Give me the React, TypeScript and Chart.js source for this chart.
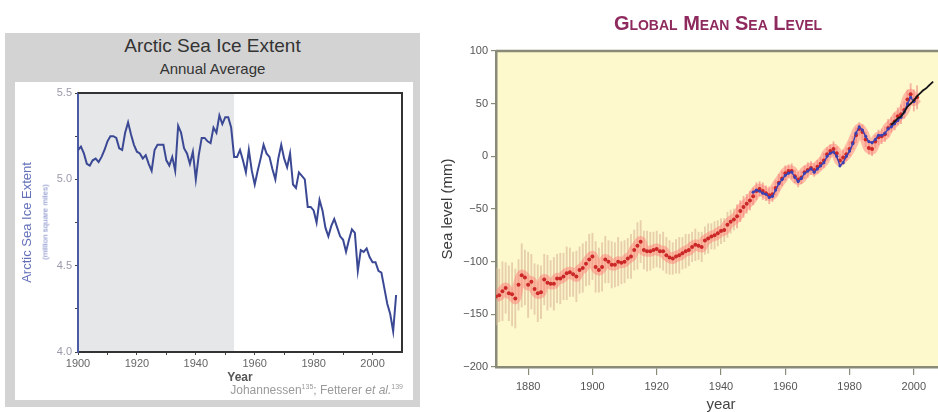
import React, { useEffect, useRef } from 'react';
import { Chart, registerables } from 'chart.js';

Chart.register(...registerables);

const FONT = "'Liberation Sans', Arial, Helvetica, sans-serif";

// ---------- Arctic sea ice extent (million square miles), annual, 1900-2008 ----------
const iceStartYear = 1900;
const iceExtent = [
  5.17, 5.19, 5.15, 5.09, 5.08, 5.11, 5.12, 5.10, 5.13, 5.17,
  5.22, 5.25, 5.25, 5.24, 5.18, 5.17, 5.27, 5.33, 5.26, 5.20,
  5.16, 5.15, 5.12, 5.14, 5.09, 5.05, 5.17, 5.20, 5.20, 5.20,
  5.11, 5.08, 5.13, 5.05, 5.31, 5.27, 5.18, 5.15, 5.09, 5.16,
  5.00, 5.14, 5.24, 5.24, 5.22, 5.21, 5.30, 5.27, 5.37, 5.32,
  5.36, 5.36, 5.30,
  5.13, 5.13, 5.17, 5.11, 5.04, 5.17, 5.05, 4.97, 5.05, 5.12,
  5.20, 5.15, 5.13, 5.06, 5.00, 5.12, 5.20, 5.12, 5.07, 5.15,
  4.97, 4.95, 5.04, 5.02, 5.00, 4.84, 4.84, 4.82, 4.75, 4.88,
  4.82, 4.72, 4.67, 4.73, 4.77, 4.72, 4.67, 4.65, 4.58, 4.65,
  4.71, 4.69, 4.47, 4.59, 4.58, 4.60, 4.55, 4.52, 4.52, 4.47,
  4.46, 4.37, 4.28, 4.22, 4.12, 4.33,
];
const iceXTicks = [1900, 1910, 1920, 1930, 1940, 1950, 1960, 1970, 1980, 1990, 2000];
const iceYTicks = [4.0, 4.25, 4.5, 4.75, 5.0, 5.25, 5.5];
const iceShadeStart = 1900;
const iceShadeEnd = 1953;

// ---------- Global mean sea level (mm) ----------
const reconStartYear = 1870;
const seaReconstructed = [
  -133, -132, -128, -125, -130, -131, -135, -122, -113, -115,
  -122, -119, -126, -130, -129, -117, -120, -121, -121, -116,
  -116, -114, -111, -110, -112, -114, -108, -106, -102, -98,
  -95, -105, -108, -105, -98, -100, -103, -103, -100, -101,
  -100, -97, -95, -89, -85, -81, -89, -90, -90, -89,
  -88, -90, -90, -94, -96, -97, -95, -94, -92, -90,
  -89, -86, -84, -85, -86, -80, -78, -76, -75, -73,
  -71, -70, -65, -62, -60, -57, -52, -48, -45, -42,
  -38, -33, -31, -33, -35, -37, -36, -30, -25, -21,
  -16, -14, -14, -19, -22, -20, -15, -13, -11, -13,
  -10, -7, -4, 2, 5, 7, 3, -4, -1, 2,
  7, 13, 20, 26, 23, 16, 8, 7, 14, 18,
  19, 21, 27, 30, 33, 38, 40, 44, 54, 59,
  53, 56,
];
const seaReconError = [
  27, 25, 28, 24, 26, 30, 28, 24, 30, 26,
  31, 26, 24, 27, 25, 24, 26, 22, 25, 23,
  24, 22, 25, 23, 21, 24, 22, 23, 21, 24,
  22, 24, 21, 23, 22, 20, 22, 21, 23, 20,
  20, 19, 21, 19, 22, 20, 18, 19, 18, 17,
  17, 16, 18, 17, 16, 15, 16, 17, 15, 16,
  15, 14, 15, 13, 14, 13, 14, 12, 13, 12,
  12, 11, 12, 11, 10, 11, 10, 10, 9, 9,
  8, 8, 7, 8, 7, 8, 7, 7, 8, 7,
  7, 6, 7, 6, 7, 6, 6, 7, 6, 6,
  6, 6, 7, 6, 6, 7, 6, 6, 7, 6,
  7, 6, 7, 6, 7, 7, 6, 7, 6, 7,
  7, 7, 8, 7, 8, 8, 9, 8, 9, 10,
  10, 11,
];
const tideStartYear = 1950;
const seaTideGauge = [
  -34, -32, -33, -35, -36, -39, -38, -32, -26, -22,
  -18, -16, -15, -20, -24, -21, -16, -14, -12, -15,
  -12, -9, -6, 0, 3, 4, 0, -9, -6, 0,
  5, 12, 22, 28, 25, 19, 14, 13, 16, 20,
  20, 22, 26, 28, 31, 34, 37, 42, 50, 56,
  52,
];
const altStartYear = 1993;
const seaAltimetry = [30, 33, 36, 38, 42, 47, 50, 53, 57, 60, 63, 65, 68, 71];
const seaXTicks = [1880, 1900, 1920, 1940, 1960, 1980, 2000];
const seaYTicks = [-200, -150, -100, -50, 0, 50, 100];

function IceChart() {
  const ref = useRef<HTMLCanvasElement>(null);
  useEffect(() => {
    if (!ref.current) return;
    Chart.defaults.font.family = FONT;
    const points = iceExtent.map((v, i) => ({ x: iceStartYear + i, y: v }));
    const shade = {
      id: 'iceShade',
      beforeDraw(chart: any) {
        const { ctx, chartArea, scales } = chart;
        const x0 = scales.x.getPixelForValue(iceShadeStart);
        const x1 = scales.x.getPixelForValue(iceShadeEnd);
        ctx.save();
        ctx.fillStyle = '#e6e7e8';
        ctx.fillRect(x0, chartArea.top, x1 - x0, chartArea.bottom - chartArea.top);
        ctx.restore();
      },
      afterDraw(chart: any) {
        const { ctx, chartArea } = chart;
        ctx.save();
        ctx.strokeStyle = '#333';
        ctx.lineWidth = 2;
        ctx.beginPath();
        ctx.moveTo(chartArea.left, chartArea.top);
        ctx.lineTo(chartArea.right, chartArea.top);
        ctx.lineTo(chartArea.right, chartArea.bottom);
        ctx.stroke();
        ctx.restore();
      },
    };
    const chart = new Chart(ref.current, {
      type: 'line',
      data: {
        datasets: [
          {
            data: points,
            borderColor: '#3b4995',
            borderWidth: 2,
            pointRadius: 0,
            tension: 0,
          },
        ],
      },
      options: {
        animation: false,
        responsive: false,
        layout: { padding: { top: 11, right: 11, left: 0, bottom: 0 } },
        plugins: { legend: { display: false }, tooltip: { enabled: false } },
        scales: {
          x: {
            type: 'linear',
            min: 1900,
            max: 2010,
            afterBuildTicks: (s: any) => { s.ticks = iceXTicks.map((v) => ({ value: v })); },
            afterFit: (s: any) => { s.height = 48; },
            ticks: {
              autoSkip: false,
              maxRotation: 0,
              color: '#666',
              font: { size: 11 },
              padding: 2,
              callback: (v: any) => (Number(v) % 20 === 0 ? String(v) : ''),
            },
            grid: { drawOnChartArea: false, tickLength: 3, color: '#444' },
            border: { color: '#333', width: 2 },
            title: {
              display: true,
              text: 'Year',
              color: '#555',
              font: { size: 12, weight: 'bold' },
              padding: { top: 0, bottom: 15 },
            },
          },
          y: {
            min: 4.0,
            max: 5.5,
            afterBuildTicks: (s: any) => { s.ticks = iceYTicks.map((v) => ({ value: v })); },
            afterFit: (s: any) => { s.width = 63; },
            ticks: {
              autoSkip: false,
              color: '#9a9aab',
              font: { size: 11 },
              padding: 3,
              callback: (v: any) => {
                const n = Number(v);
                return Math.abs(n * 2 - Math.round(n * 2)) < 1e-6 ? n.toFixed(1) : '';
              },
            },
            grid: { drawOnChartArea: false, tickLength: 3, color: '#444' },
            border: { color: '#4b5aa5', width: 2 },
            title: {
              display: true,
              text: 'Arctic Sea Ice Extent',
              color: '#6471b9',
              font: { size: 13 },
              padding: { top: 5, bottom: 0 },
            },
          },
        },
      },
      plugins: [shade],
    } as any);
    return () => chart.destroy();
  }, []);
  return <canvas ref={ref} width={398} height={318} style={{ display: 'block' }} />;
}

function SeaChart() {
  const ref = useRef<HTMLCanvasElement>(null);
  useEffect(() => {
    if (!ref.current) return;
    Chart.defaults.font.family = FONT;
    const recon = seaReconstructed.map((v, i) => ({ x: reconStartYear + i, y: v }));
    const errBars = seaReconstructed.map((v, i) => ({
      x: reconStartYear + i,
      y: [v - seaReconError[i], v + seaReconError[i]],
    }));
    const tide = seaTideGauge.map((v, i) => ({ x: tideStartYear + i, y: v }));
    const alt = seaAltimetry.map((v, i) => ({ x: altStartYear + i, y: v }));
    const frameColor = '#8a8a78';
    const bg = {
      id: 'seaBg',
      beforeDraw(chart: any) {
        const { ctx, chartArea } = chart;
        ctx.save();
        ctx.fillStyle = '#fef8cd';
        ctx.fillRect(chartArea.left, chartArea.top, chartArea.right - chartArea.left, chartArea.bottom - chartArea.top);
        ctx.restore();
      },
      afterDraw(chart: any) {
        const { ctx, chartArea } = chart;
        ctx.save();
        ctx.strokeStyle = frameColor;
        ctx.lineWidth = 2.5;
        ctx.beginPath();
        ctx.moveTo(chartArea.left, chartArea.top);
        ctx.lineTo(chartArea.right, chartArea.top);
        ctx.lineTo(chartArea.right, chartArea.bottom);
        ctx.stroke();
        ctx.restore();
      },
    };
    const chart = new Chart(ref.current, {
      type: 'line',
      data: {
        datasets: [
          {
            type: 'line',
            data: alt,
            borderColor: '#151515',
            borderWidth: 1.8,
            pointRadius: 0,
            tension: 0.2,
            order: 0,
          },
          {
            type: 'line',
            data: tide,
            borderColor: '#3b40b2',
            borderWidth: 1.4,
            pointRadius: 1.6,
            pointBackgroundColor: '#3b40b2',
            pointBorderWidth: 0,
            tension: 0,
            order: 1,
          },
          {
            type: 'line',
            data: recon,
            showLine: false,
            pointRadius: 2,
            pointBackgroundColor: '#cc2828',
            pointBorderWidth: 0,
            order: 2,
          },
          {
            type: 'line',
            data: recon,
            borderColor: 'rgba(255,128,120,0.5)',
            borderWidth: 11,
            pointRadius: 0,
            tension: 0.3,
            order: 3,
          },
          {
            type: 'bar',
            data: errBars,
            barThickness: 1.2,
            grouped: false,
            backgroundColor: (c: any) =>
              c.raw && c.raw.x < 1945 ? 'rgba(214,180,146,0.6)' : 'rgba(240,150,140,0.7)',
            order: 4,
          },
        ],
      },
      options: {
        animation: false,
        responsive: false,
        layout: { padding: { top: 51, right: 4, left: 0, bottom: 0 } },
        plugins: { legend: { display: false }, tooltip: { enabled: false } },
        scales: {
          x: {
            type: 'linear',
            min: 1870,
            max: 2010,
            offset: false,
            afterBuildTicks: (s: any) => { s.ticks = seaXTicks.map((v) => ({ value: v })); },
            afterFit: (s: any) => { s.height = 45; },
            ticks: {
              autoSkip: false,
              maxRotation: 0,
              color: '#555',
              font: { size: 11 },
              padding: 5,
              callback: (v: any) => String(v),
            },
            grid: { drawOnChartArea: false, offset: false, tickLength: 8, color: frameColor, lineWidth: 1.2 },
            border: { color: frameColor, width: 2.5 },
            title: {
              display: true,
              text: 'year',
              color: '#444',
              font: { size: 15, lineHeight: 1 },
              padding: 0,
            },
          },
          y: {
            type: 'linear',
            min: -200,
            max: 100,
            afterBuildTicks: (s: any) => { s.ticks = seaYTicks.map((v) => ({ value: v })); },
            afterFit: (s: any) => { s.width = 56; },
            ticks: {
              autoSkip: false,
              color: '#555',
              font: { size: 11 },
              padding: 3,
              callback: (v: any) => (Number(v) < 0 ? '\u2212' + Math.abs(Number(v)) : String(v)),
            },
            grid: { drawOnChartArea: false, tickLength: 5, color: frameColor, lineWidth: 1.2 },
            border: { color: frameColor, width: 2.5 },
            title: {
              display: true,
              text: 'Sea level (mm)',
              color: '#3a3a3a',
              font: { size: 15, lineHeight: 1 },
              padding: 0,
            },
          },
        },
      },
      plugins: [bg],
    } as any);
    return () => chart.destroy();
  }, []);
  return <canvas ref={ref} width={510} height={412} style={{ display: 'block' }} />;
}

export default function App() {
  return (
    <div
      style={{
        position: 'absolute',
        left: 0,
        top: 0,
        width: 938,
        height: 412,
        overflow: 'hidden',
        background: '#fff',
        fontFamily: FONT,
      }}
    >
      {/* left panel */}
      <div style={{ position: 'absolute', left: 5, top: 33, width: 415, height: 374, background: '#d3d3d3' }} />
      <div
        style={{
          position: 'absolute', left: 5, top: 35, width: 415, textAlign: 'center',
          fontSize: 19, lineHeight: '22px', color: '#333',
        }}
      >
        Arctic Sea Ice Extent
      </div>
      <div
        style={{
          position: 'absolute', left: 5, top: 60, width: 415, textAlign: 'center',
          fontSize: 15, lineHeight: '17px', color: '#333',
        }}
      >
        Annual Average
      </div>
      <div style={{ position: 'absolute', left: 15, top: 82, width: 398, height: 318, background: '#fff' }}>
        <IceChart />
      </div>
      <div
        style={{
          position: 'absolute', left: 45, top: 222, transform: 'translate(-50%, -50%) rotate(-90deg)',
          whiteSpace: 'nowrap', fontSize: 8, color: '#7c87c6',
        }}
      >
        (million square miles)
      </div>
      <div
        style={{
          position: 'absolute', left: 150, top: 380, width: 253, textAlign: 'right',
          fontSize: 12, lineHeight: '13px', color: '#9a9a9a', whiteSpace: 'nowrap',
        }}
      >
        Johannessen<sup style={{ fontSize: 7 }}>135</sup>; Fetterer <i>et al.</i>
        <sup style={{ fontSize: 7 }}>139</sup>
      </div>

      {/* right panel */}
      <div style={{ position: 'absolute', left: 440, top: 0, width: 510, height: 412 }}>
        <SeaChart />
      </div>
      <div
        style={{
          position: 'absolute', left: 500, top: 12, width: 436, textAlign: 'center',
          fontSize: 20, lineHeight: '22px', fontWeight: 'bold', fontVariant: 'small-caps',
          color: '#8e2a5e', whiteSpace: 'nowrap',
        }}
      >
        Global Mean Sea Level
      </div>
    </div>
  );
}
